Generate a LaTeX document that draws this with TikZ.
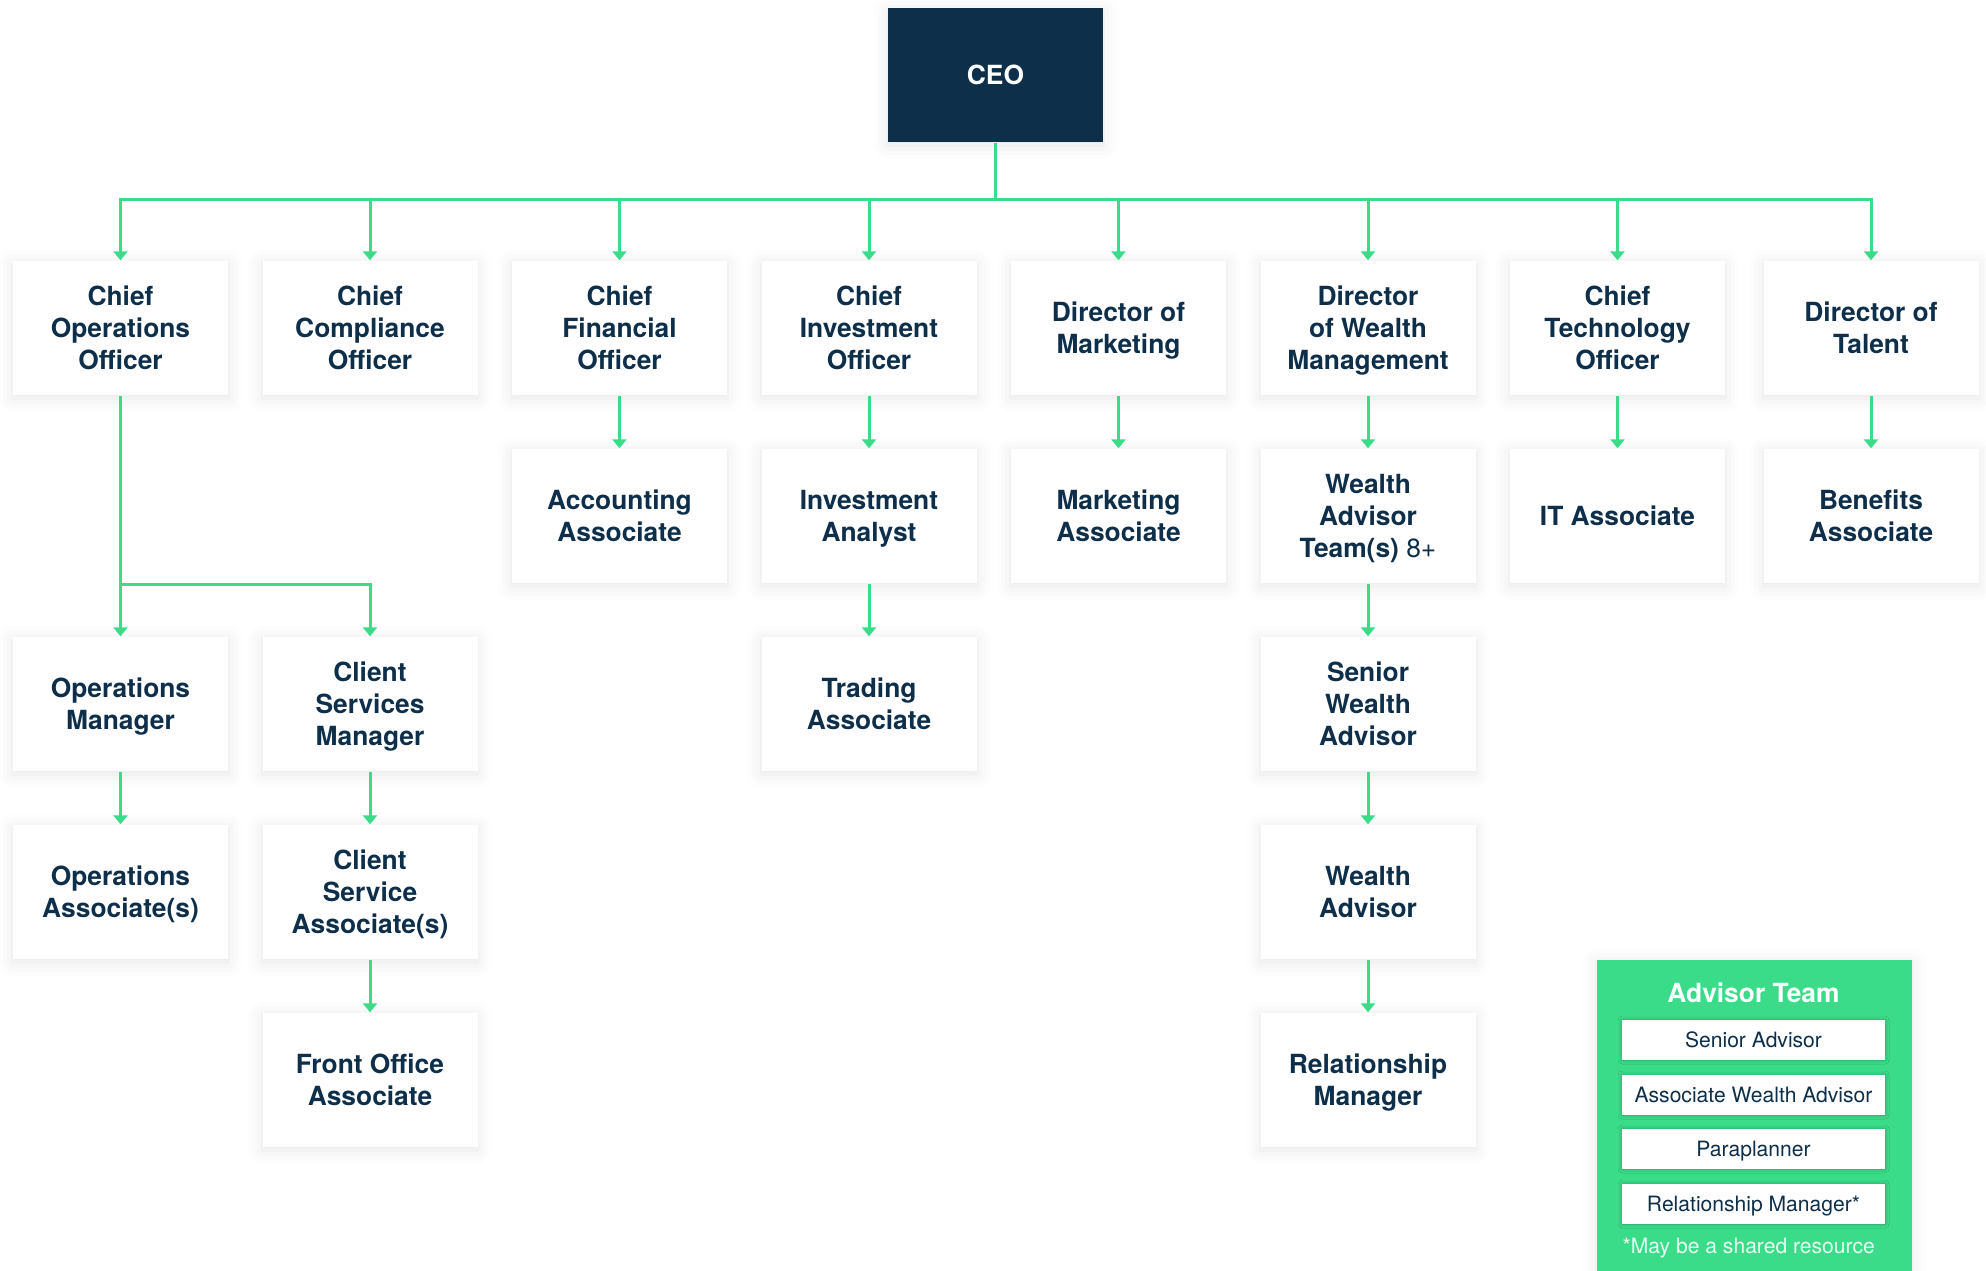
\documentclass[tikz,border=0pt]{standalone}
\usepackage{fontspec}
\setmainfont{TeX Gyre Heros}
\definecolor{WMNavy}{RGB}{14,47,74}
\definecolor{WMGreen}{RGB}{58,220,138}
\usetikzlibrary{arrows.meta, positioning, shadows.blur}

\begin{document}
\begin{tikzpicture}
        % Org chart (wealth management firm)
        \tikzset{
          card/.style={fill=white, minimum width=2.15cm, minimum height=1.34cm, inner sep=0,
                       align=center, text depth=0pt, text=WMNavy, font=\fontsize{7.5}{9.1}\selectfont\bfseries,
                       blur shadow={shadow xshift=0pt, shadow yshift=-0.03cm,
                                    shadow blur radius=0.14cm, shadow opacity=10}},
          boss/.style={card, fill=WMNavy, text=white},
          link/.style={WMGreen, line width=0.03cm, -{Triangle[width=0.14cm,length=0.09cm]}},
          team/.style={fill=WMGreen, minimum width=3.15cm, minimum height=3.11cm, inner sep=0,
                       blur shadow={shadow xshift=0pt, shadow yshift=-0.03cm,
                                    shadow blur radius=0.14cm, shadow opacity=10}},
          member/.style={fill=white, minimum width=2.63cm, minimum height=0.40cm, inner sep=0,
                         text depth=0pt, text=WMNavy, font=\fontsize{6}{7}\selectfont,
                         blur shadow={shadow xshift=0pt, shadow yshift=0pt,
                                      shadow blur radius=0.04cm, shadow opacity=25}}
        }
        \useasboundingbox (0,0) rectangle (19.86,-12.70);

        % CEO
        \node[boss] (ceo) at (9.955,-0.75) {CEO};

        % Direct reports
        \node[card] (coo)  at (1.205,-3.28)  {Chief\\Operations\\Officer};
        \node[card] (cco)  at (3.70,-3.28)   {Chief\\Compliance\\Officer};
        \node[card] (cfo)  at (6.195,-3.28)  {Chief\\Financial\\Officer};
        \node[card] (cio)  at (8.69,-3.28)   {Chief\\Investment\\Officer};
        \node[card] (dmkt) at (11.185,-3.28) {Director of\\Marketing};
        \node[card] (dwm)  at (13.68,-3.28)  {Director\\of Wealth\\Management};
        \node[card] (cto)  at (16.175,-3.28) {Chief\\Technology\\Officer};
        \node[card] (dtal) at (18.71,-3.28)  {Director of\\Talent};

        % Second level
        \node[card] (acct)  at (6.195,-5.16)  {Accounting\\Associate};
        \node[card] (invan) at (8.69,-5.16)   {Investment\\Analyst};
        \node[card] (mktas) at (11.185,-5.16) {Marketing\\Associate};
        \node[card] (wat)   at (13.68,-5.16)  {Wealth\\Advisor\\Team(s) {\mdseries 8+}};
        \node[card] (itas)  at (16.175,-5.16) {IT Associate};
        \node[card] (benas) at (18.71,-5.16)  {Benefits\\Associate};

        % Third level
        \node[card] (opsmgr) at (1.205,-7.04) {Operations\\Manager};
        \node[card] (csmgr)  at (3.70,-7.04)  {Client\\Services\\Manager};
        \node[card] (trade)  at (8.69,-7.04)  {Trading\\Associate};
        \node[card] (swa)    at (13.68,-7.04) {Senior\\Wealth\\Advisor};

        % Fourth level
        \node[card] (opsas) at (1.205,-8.92) {Operations\\Associate(s)};
        \node[card] (csas)  at (3.70,-8.92)  {Client\\Service\\Associate(s)};
        \node[card] (wa)    at (13.68,-8.92) {Wealth\\Advisor};

        % Fifth level
        \node[card] (fo) at (3.70,-10.80)  {Front Office\\Associate};
        \node[card] (rm) at (13.68,-10.80) {Relationship\\Manager};

        % Links
        \coordinate (bus) at (9.955,-1.99);
        \foreach \n in {coo,cco,cfo,cio,dmkt,dwm,cto,dtal}
          \draw[link] (ceo.south) -- (bus) -| (\n.north);
        \coordinate (opsplit) at (1.205,-5.84);
        \draw[link] (coo.south) -- (opsplit) -| (opsmgr.north);
        \draw[link] (coo.south) -- (opsplit) -| (csmgr.north);
        \draw[link] (opsmgr) -- (opsas);
        \draw[link] (csmgr) -- (csas);
        \draw[link] (csas) -- (fo);
        \draw[link] (cfo) -- (acct);
        \draw[link] (cio) -- (invan);
        \draw[link] (invan) -- (trade);
        \draw[link] (dmkt) -- (mktas);
        \draw[link] (dwm) -- (wat);
        \draw[link] (wat) -- (swa);
        \draw[link] (swa) -- (wa);
        \draw[link] (wa) -- (rm);
        \draw[link] (cto) -- (itas);
        \draw[link] (dtal) -- (benas);

        % Advisor team legend
        \node[team, anchor=north west] (team) at (15.96,-9.59) {};
        \node[font=\fontsize{7.5}{9}\selectfont\bfseries, text=white] (teamtitle) at (17.535,-9.93) {Advisor Team};
        \node[member] (sadv)   at (17.535,-10.40) {Senior Advisor};
        \node[member] (awadv)  at (17.535,-10.95) {Associate Wealth Advisor};
        \node[member] (parapl) at (17.535,-11.49) {Paraplanner};
        \node[member] (relmgr) at (17.535,-12.04) {Relationship Manager*};
        \node[font=\fontsize{6}{7}\selectfont, text=white!88!WMGreen, anchor=west, inner sep=0] (shared) at (16.22,-12.48) {*May be a shared resource};
      \end{tikzpicture}
\end{document}
